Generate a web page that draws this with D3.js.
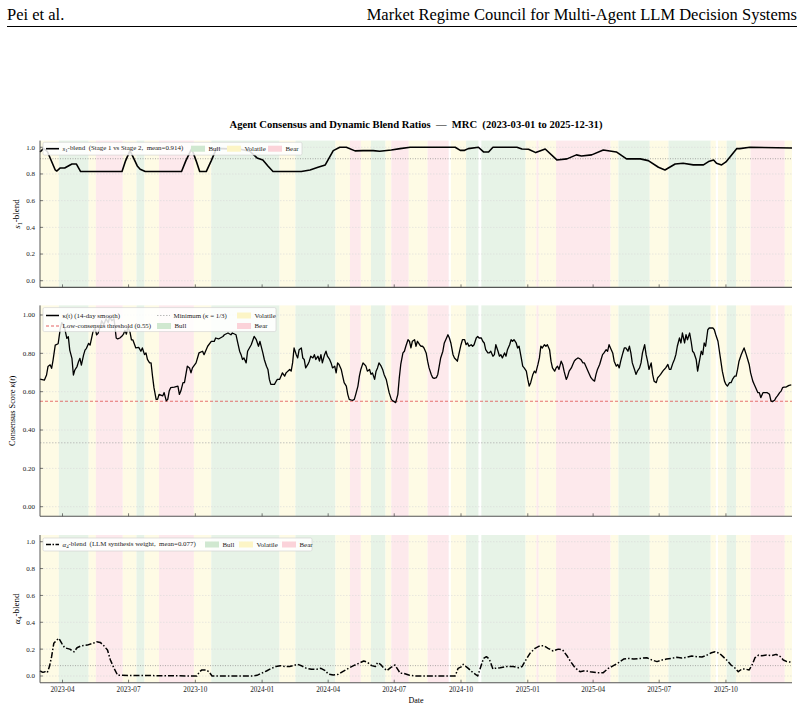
<!DOCTYPE html>
<html>
<head>
<meta charset="utf-8">
<script src="https://cdn.jsdelivr.net/npm/d3@7"></script>
<style>
  body { margin: 0; background: #fff; }
  text { font-family: "Liberation Serif", "Times New Roman", serif; }
</style>
</head>
<body>
<svg id="chart"></svg>
<script>
let width = 804;
let height = 710;

// market regimes (same shading in every panel)
let regimeStart = ["2023-03-01","2023-03-27","2023-05-07","2023-05-17","2023-06-23","2023-07-12","2023-07-23","2023-08-12","2023-09-29","2023-10-23","2024-01-25","2024-02-16","2024-04-11","2024-05-01","2024-05-16","2024-05-30","2024-06-19","2024-06-27","2024-07-21","2024-08-16","2024-09-17","2024-10-08","2024-10-29","2024-12-29","2025-01-13","2025-01-16","2025-02-09","2025-04-25","2025-05-06","2025-06-18","2025-07-14","2025-09-10","2025-09-20","2025-10-02","2025-10-15","2025-11-04","2025-12-21"];
let regimeEnd = ["2023-03-27","2023-05-07","2023-05-17","2023-06-23","2023-07-12","2023-07-23","2023-08-12","2023-09-29","2023-10-23","2024-01-25","2024-02-16","2024-04-11","2024-05-01","2024-05-16","2024-05-30","2024-06-19","2024-06-27","2024-07-21","2024-08-16","2024-09-14","2024-10-08","2024-10-25","2024-12-29","2025-01-13","2025-01-16","2025-02-09","2025-04-25","2025-05-06","2025-06-18","2025-07-14","2025-09-10","2025-09-17","2025-10-02","2025-10-15","2025-11-04","2025-12-21","2025-12-31"];
let regimeType = ["Volatile","Bull","Volatile","Bear","Volatile","Bull","Volatile","Bear","Volatile","Bull","Volatile","Bull","Volatile","Bear","Volatile","Bull","Volatile","Bear","Volatile","Bear","Volatile","Bull","Bull","Volatile","Bear","Volatile","Bear","Volatile","Bull","Volatile","Bull","Volatile","Volatile","Bull","Volatile","Bear","Volatile"];

// series: [days since 2023-03-01, value]
let s1Blend = [[0,.965],[5,.99],[10,.97],[21,.83],[23,.822],[28,.845],[34,.845],[44,.875],[50,.875],[56,.818],[113,.818],[118,.9],[124,.975],[128,.93],[134,.86],[138,.835],[145,.818],[195,.818],[201,.9],[209,.99],[215,.9],[220,.818],[229,.818],[236,.9],[243,.99],[251,.99],[276,.985],[289,.97],[293,.95],[299,.92],[307,.905],[314,.86],[321,.818],[360,.818],[372,.83],[383,.85],[393,.868],[404,.975],[413,1.0],[422,1.0],[434,.973],[445,.975],[459,.975],[468,.97],[484,.98],[496,.99],[510,1.0],[572,1.0],[579,.977],[585,.977],[590,.99],[604,1.0],[611,.965],[618,.965],[624,1.0],[657,1.0],[664,.987],[673,.985],[683,.96],[696,.987],[712,.905],[726,.913],[739,.943],[746,.935],[760,.943],[776,.98],[794,.965],[808,.913],[827,.913],[838,.9],[852,.85],[861,.83],[875,.875],[886,.88],[900,.868],[914,.868],[921,.893],[928,.905],[932,.88],[939,.868],[945,.89],[960,.99],[964,.99],[978,1.0],[1036,.995]];
let s1Mean = 0.914;

let kappa = [[0,.666],[6,.66],[9,.687],[11,.731],[14,.74],[16,.722],[18,.765],[21,.843],[25,.85],[28,.93],[30,.96],[32,.95],[34,.93],[37,.878],[39,.887],[41,.817],[44,.774],[46,.687],[48,.713],[51,.731],[53,.756],[55,.774],[57,.739],[60,.791],[62,.817],[64,.826],[67,.852],[69,.843],[71,.878],[73,.913],[76,.93],[78,.896],[80,.904],[83,.94],[85,.97],[88,.95],[91,.98],[94,.96],[96,.99],[99,.97],[102,.98],[105,.88],[107,.875],[110,.88],[113,.89],[115,.9],[117,.92],[119,.9],[121,.935],[124,.91],[126,.87],[128,.87],[132,.828],[136,.831],[139,.811],[141,.828],[144,.793],[146,.802],[148,.768],[151,.75],[153,.75],[155,.681],[157,.621],[160,.56],[162,.56],[164,.586],[169,.578],[171,.595],[174,.552],[176,.56],[178,.603],[180,.621],[185,.624],[190,.629],[192,.586],[194,.603],[197,.647],[199,.647],[203,.733],[206,.724],[208,.698],[210,.724],[215,.75],[219,.802],[224,.811],[226,.793],[231,.837],[236,.862],[240,.862],[242,.88],[246,.875],[252,.888],[254,.897],[259,.906],[263,.897],[265,.906],[270,.897],[272,.862],[275,.811],[277,.793],[279,.768],[281,.776],[284,.75],[286,.811],[291,.845],[295,.888],[298,.871],[301,.837],[303,.862],[307,.802],[309,.768],[312,.733],[314,.716],[316,.664],[318,.638],[323,.638],[325,.652],[327,.664],[330,.664],[332,.681],[334,.698],[337,.681],
[339,.698],[344,.716],[346,.707],[348,.75],[350,.828],[353,.793],[355,.776],[357,.819],[360,.828],[362,.776],[364,.768],[366,.724],[369,.742],[371,.759],[373,.785],[376,.776],[378,.793],[380,.768],[383,.785],[385,.759],[387,.793],[389,.75],[392,.793],[394,.811],[396,.785],[399,.768],[401,.75],[403,.724],[406,.733],[408,.698],[410,.75],[412,.742],[415,.716],[417,.681],[419,.647],[422,.629],[424,.586],[426,.56],[428,.557],[431,.555],[433,.56],[435,.586],[438,.629],[440,.681],[442,.716],[445,.75],[447,.742],[449,.733],[451,.707],[454,.716],[456,.69],[458,.698],[461,.664],[463,.707],[465,.724],[467,.75],[470,.733],[472,.716],[474,.69],[477,.664],[479,.629],[481,.595],[484,.56],[486,.552],[488,.548],[490,.543],[493,.586],[495,.673],[497,.742],[500,.802],[502,.811],[504,.837],[507,.871],[509,.863],[511,.828],[513,.863],[516,.871],[518,.837],[520,.863],[523,.845],[525,.837],[527,.837],[529,.828],[532,.802],[534,.759],[536,.724],[539,.69],[541,.673],[543,.669],[546,.673],[548,.69],[550,.733],[552,.776],[555,.811],[557,.854],[559,.871],[562,.897],[564,.88],[566,.854],[569,.793],[571,.776],[573,.768],[575,.759],[578,.811],[580,.845],[582,.871],[585,.871],[587,.845],[589,.854],[591,.837],[594,.845],[596,.837],[598,.845],[601,.88],[603,.888],[605,.88],[608,.88],[610,.863],[612,.854],[614,.819],[617,.802],[619,.802],[621,.811],[624,.785],[626,.793],[628,.845],[631,.811],[633,.785],[635,.793],[637,.776],[640,.802],[642,.785],[644,.819],[647,.845],[649,.871],[651,.863],[653,.871],[656,.854],[658,.828],[660,.837],[663,.776],[665,.733],[667,.724],[670,.707],[672,.664],[674,.629],[676,.647],[679,.69],[681,.707],[683,.698],
[686,.742],[688,.776],[690,.837],[692,.828],[695,.845],[697,.837],[699,.845],[702,.819],[704,.759],[706,.724],[709,.707],[711,.724],[713,.733],[715,.716],[718,.759],[720,.742],[722,.707],[725,.664],[727,.681],[729,.707],[732,.724],[734,.742],[736,.759],[738,.768],[741,.776],[743,.773],[745,.768],[748,.75],[750,.75],[752,.733],[755,.707],[757,.69],[759,.673],[761,.664],[764,.655],[766,.69],[768,.716],[771,.742],[773,.768],[775,.793],[777,.802],[780,.819],[782,.811],[784,.845],[787,.819],[789,.802],[791,.759],[794,.733],[796,.742],[798,.724],[800,.759],[803,.802],[805,.828],[807,.828],[810,.811],[812,.837],[814,.802],[816,.75],[819,.716],[821,.69],[823,.707],[826,.724],[828,.75],[830,.802],[833,.845],[835,.793],[837,.759],[839,.716],[842,.75],[844,.69],[846,.655],[849,.647],[851,.673],[853,.681],[855,.69],[858,.707],[860,.716],[862,.724],[865,.742],[867,.716],[869,.716],[872,.75],[874,.768],[876,.793],[878,.837],[881,.88],[883,.854],[885,.906],[888,.854],[890,.897],[892,.871],[895,.906],[897,.863],[899,.811],[901,.802],[904,.768],[906,.707],[908,.75],[911,.811],[913,.793],[915,.854],[917,.837],[920,.923],[922,.932],[924,.932],[927,.932],[929,.923],[931,.897],[934,.863],[936,.811],[938,.759],[940,.707],[943,.655],[945,.638],[947,.629],[950,.647],[952,.647],[954,.664],[957,.681],[959,.681],[961,.716],[963,.759],[966,.793],[968,.811],[970,.828],[973,.793],[975,.768],[977,.742],[979,.698],[982,.655],[984,.638],[986,.621],[989,.595],[991,.595],[993,.569],[996,.595],[998,.595],[1000,.595],[1002,.595],[1005,.586],[1007,.552],[1009,.548],[1012,.555],[1014,.569],[1016,.578],[1019,.595],[1021,.603],[1023,.621],[1025,.624],[1028,.624],[1030,.629],[1032,.633],[1035,.635]];
let kappaThreshold = 0.55;
let kappaMinimum = 1/3;

let a4Blend = [[0,.037],[4,.027],[7,.032],[10,.025],[13,.07],[16,.144],[19,.243],[23,.268],[26,.28],[30,.243],[34,.21],[41,.2],[47,.18],[51,.21],[57,.225],[65,.23],[73,.243],[78,.255],[83,.25],[88,.225],[93,.193],[97,.119],[102,.057],[107,.005],[216,0],[220,.032],[223,.045],[229,.045],[233,.03],[237,0],[294,0],[299,.005],[305,.02],[312,.037],[319,.057],[325,.07],[331,.077],[338,.07],[344,.07],[349,.077],[355,.087],[361,.074],[367,.057],[374,.05],[381,.05],[387,.057],[393,.04],[397,.015],[404,.007],[411,.012],[417,.032],[425,.057],[432,.077],[439,.094],[446,.112],[451,.102],[457,.077],[462,.07],[465,.1],[469,.087],[473,.062],[478,.04],[483,.062],[489,.082],[494,.04],[496,.02],[501,.02],[508,.007],[517,0],[572,0],[576,.057],[581,.07],[583,.087],[587,.07],[590,.057],[595,.032],[598,.02],[603,0],[605,.032],[608,.082],[611,.131],[615,.144],[618,.131],[620,.112],[624,.052],[627,.057],[634,.062],[643,.07],[652,.07],[659,.062],[664,.07],[668,.107],[675,.169],[682,.206],[689,.226],[694,.226],[700,.206],[707,.186],[714,.2],[720,.194],[726,.151],[731,.107],[737,.062],[744,.032],[751,.04],[758,.032],[767,.025],[776,.025],[783,.057],[790,.077],[797,.099],[804,.126],[811,.131],[818,.126],[827,.131],[836,.136],[843,.119],[850,.107],[857,.119],[863,.126],[870,.131],[877,.139],[884,.134],[891,.139],[898,.149],[905,.144],[912,.141],[919,.156],[925,.173],[930,.181],[936,.169],[941,.144],[946,.119],[952,.082],[958,.057],[962,.032],[967,.052],[971,.052],[977,.045],[981,.082],[985,.136],[990,.156],[994,.151],[1001,.156],[1008,.151],[1014,.161],[1020,.144],[1024,.119],[1029,.107],[1036,.102]];
let a4Mean = 0.077;

let xTickLabels = ["2023-04","2023-07","2023-10","2024-01","2024-04","2024-07","2024-10","2025-01","2025-04","2025-07","2025-10"];
let yTicks = [0, 0.2, 0.4, 0.6, 0.8, 1.0];

let bandFill = {Bull: "#e7f3e7", Volatile: "#fefbe5", Bear: "#fde9ec"};
let patchFill = {Bull: "#d0e8d0", Volatile: "#fcf5c6", Bear: "#fbd3d9"};

let t0 = Date.UTC(2023, 2, 1);
let dayToDate = d => new Date(t0 + d * 864e5);
let parse = d3.utcParse("%Y-%m-%d");
let parseMonth = d3.utcParse("%Y-%m");

let svg = d3.select('#chart')
  .attr('width', width)
  .attr('height', height);

let xax = d3.scaleUtc()
  .domain([parse("2023-03-01"), parse("2025-12-31")])
  .range([40, 792]);

// page header
svg.append('text').attr('x', 7).attr('y', 20).attr('font-size', 16.5)
  .style('font-family', '"Liberation Serif", serif').text('Pei et al.');
svg.append('text').attr('x', 797).attr('y', 20).attr('font-size', 16.5).attr('text-anchor', 'end')
  .text('Market Regime Council for Multi-Agent LLM Decision Systems');
svg.append('line').attr('x1', 7).attr('x2', 797).attr('y1', 26.5).attr('y2', 26.5)
  .attr('stroke', '#000').attr('stroke-width', 1);

svg.append('text')
  .attr('x', 416).attr('y', 128)
  .attr('text-anchor', 'middle')
  .attr('font-size', 10.6).attr('font-weight', 'bold')
  .attr('xml:space', 'preserve')
  .text('Agent Consensus and Dynamic Blend Ratios  \u2014  MRC  (2023-03-01 to 2025-12-31)');

let regimes = regimeStart.map((s, i) => ({start: parse(s), end: parse(regimeEnd[i]), type: regimeType[i]}));

function drawPanel(cfg) {
  let g = svg.append('g');
  let yax = d3.scaleLinear().domain([-0.05, 1.05]).range([cfg.bottom, cfg.top]);

  g.selectAll('rect.band')
    .data(regimes)
    .join('rect')
      .attr('class', 'band')
      .attr('x', d => xax(d.start))
      .attr('width', d => xax(d.end) - xax(d.start))
      .attr('y', cfg.top)
      .attr('height', cfg.bottom - cfg.top)
      .attr('fill', d => bandFill[d.type]);

  g.selectAll('line.grid')
    .data(yTicks)
    .join('line')
      .attr('class', 'grid')
      .attr('x1', 40).attr('x2', 792)
      .attr('y1', d => yax(d)).attr('y2', d => yax(d))
      .attr('stroke', '#d8d8d8').attr('stroke-width', 0.6)
      .attr('stroke-dasharray', '1.5,1.5');

  cfg.refs.forEach(r => {
    g.append('line')
      .attr('x1', 40).attr('x2', 792)
      .attr('y1', yax(r.value)).attr('y2', yax(r.value))
      .attr('stroke', r.color).attr('stroke-width', r.width)
      .attr('stroke-dasharray', r.dash);
  });

  let line = d3.line()
    .x(d => xax(dayToDate(d[0])))
    .y(d => yax(d[1]));
  g.append('path')
    .attr('d', line(cfg.data))
    .attr('fill', 'none')
    .attr('stroke', '#000')
    .attr('stroke-width', cfg.lineWidth)
    .attr('stroke-linejoin', 'round')
    .attr('stroke-dasharray', cfg.dash || null);

  // spines
  g.append('line').attr('x1', 40).attr('x2', 40).attr('y1', cfg.top).attr('y2', cfg.bottom)
    .attr('stroke', '#444').attr('stroke-width', 0.9);
  g.append('line').attr('x1', 40).attr('x2', 792).attr('y1', cfg.bottom).attr('y2', cfg.bottom)
    .attr('stroke', '#555').attr('stroke-width', 1.1);

  // y ticks (inward)
  g.selectAll('line.ytick')
    .data(yTicks)
    .join('line')
      .attr('class', 'ytick')
      .attr('x1', 40).attr('x2', 43)
      .attr('y1', d => yax(d)).attr('y2', d => yax(d))
      .attr('stroke', '#444').attr('stroke-width', 0.7);
  g.selectAll('text.ylab')
    .data(yTicks)
    .join('text')
      .attr('class', 'ylab')
      .attr('x', 35).attr('y', d => yax(d) + 2.4)
      .attr('text-anchor', 'end')
      .attr('font-size', 7).attr('fill', '#222')
      .text(d => d3.format(cfg.fmt)(d));

  // x ticks (inward)
  let xt = xTickLabels.map(parseMonth);
  g.selectAll('line.xtick')
    .data(xt)
    .join('line')
      .attr('class', 'xtick')
      .attr('x1', d => xax(d)).attr('x2', d => xax(d))
      .attr('y1', cfg.bottom).attr('y2', cfg.bottom - 3)
      .attr('stroke', '#444').attr('stroke-width', 0.7);
  if (cfg.xLabels) {
    g.selectAll('text.xlab')
      .data(xt)
      .join('text')
        .attr('class', 'xlab')
        .attr('x', d => xax(d)).attr('y', cfg.bottom + 9.5)
        .attr('text-anchor', 'middle')
        .attr('font-size', 7.2).attr('fill', '#222')
        .text(d => d3.utcFormat("%Y-%m")(d));
    g.append('text')
      .attr('x', 416).attr('y', cfg.bottom + 20)
      .attr('text-anchor', 'middle')
      .attr('font-size', 8)
      .text('Date');
  }

  // y label
  let yl = g.append('text')
    .attr('transform', `translate(${cfg.ylabX},${(cfg.top + cfg.bottom) / 2}) rotate(-90)`)
    .attr('text-anchor', 'middle')
    .attr('font-size', cfg.ylabSize);
  cfg.ylabel(yl);

  // legend
  let lg = g.append('g');
  lg.append('rect')
    .attr('x', cfg.legend.x).attr('y', cfg.legend.y)
    .attr('width', cfg.legend.w).attr('height', cfg.legend.h)
    .attr('rx', 1.5)
    .attr('fill', '#fff').attr('fill-opacity', 0.85)
    .attr('stroke', '#cfcfcf').attr('stroke-width', 0.6);
  cfg.legend.items.forEach(it => {
    if (it.kind === 'line') {
      lg.append('line')
        .attr('x1', it.x).attr('x2', it.x + 13)
        .attr('y1', it.y).attr('y2', it.y)
        .attr('stroke', it.color).attr('stroke-width', it.width)
        .attr('stroke-dasharray', it.dash || null);
    } else {
      lg.append('rect')
        .attr('x', it.x).attr('y', it.y - 3)
        .attr('width', 14).attr('height', 6)
        .attr('fill', patchFill[it.type]);
    }
    let t = lg.append('text')
      .attr('x', it.x + (it.kind === 'line' ? 16.5 : 17.5))
      .attr('y', it.y + 2.3)
      .attr('font-size', 6.9)
      .attr('fill', '#222')
      .attr('xml:space', 'preserve');
    if (it.label) it.label(t); else t.text(it.type);
  });
}

function sub(t, main, s, rest) {
  t.append('tspan').attr('font-style', 'italic').text(main);
  t.append('tspan').attr('font-size', '70%').attr('dy', '0.25em').text(s);
  t.append('tspan').attr('dy', '-0.25em').text(rest);
}

drawPanel({
  top: 140.6, bottom: 287.4, fmt: '.1f',
  data: s1Blend, lineWidth: 1.6,
  refs: [{value: s1Mean, color: '#888', width: 0.7, dash: '1,1.5'}],
  ylabX: 20, ylabSize: 9,
  ylabel: t => sub(t, 's', '1', '-blend'),
  legend: {x: 43, y: 142.3, w: 259, h: 12.8, items: [
    {kind: 'line', x: 46, y: 148.7, color: '#000', width: 1.6,
     label: t => sub(t, 's', '1', '-blend  (Stage 1 vs Stage 2,  mean=0.914)')},
    {kind: 'patch', x: 191, y: 148.7, type: 'Bull'},
    {kind: 'patch', x: 227, y: 148.7, type: 'Volatile'},
    {kind: 'patch', x: 268, y: 148.7, type: 'Bear'}
  ]}
});

drawPanel({
  top: 305.4, bottom: 516.3, fmt: '.2f',
  data: kappa, lineWidth: 1.3,
  refs: [
    {value: kappaMinimum, color: '#aaa', width: 0.7, dash: '1.5,1.5'},
    {value: kappaThreshold, color: '#e05050', width: 0.8, dash: '3,2'}
  ],
  ylabX: 15, ylabSize: 8.3,
  ylabel: t => {
    t.append('tspan').text('Consensus Score ');
    t.append('tspan').attr('font-style', 'italic').text('\u03ba');
    t.append('tspan').text('(');
    t.append('tspan').attr('font-style', 'italic').text('t');
    t.append('tspan').text(')');
  },
  legend: {x: 43, y: 307.6, w: 233, h: 24, items: [
    {kind: 'line', x: 46, y: 315.5, color: '#000', width: 1.5,
     label: t => t.text('\u03ba(t) (14-day smooth)')},
    {kind: 'line', x: 46, y: 326, color: '#e05050', width: 0.9, dash: '3,2',
     label: t => t.text('Low-consensus threshold (0.55)')},
    {kind: 'line', x: 157, y: 315.5, color: '#aaa', width: 0.8, dash: '1.5,1.5',
     label: t => {
       t.append('tspan').text('Minimum (');
       t.append('tspan').attr('font-style', 'italic').text('\u03ba');
       t.append('tspan').text(' = 1/3)');
     }},
    {kind: 'patch', x: 157, y: 326, type: 'Bull'},
    {kind: 'patch', x: 237, y: 315.5, type: 'Volatile'},
    {kind: 'patch', x: 237, y: 326, type: 'Bear'}
  ]}
});

drawPanel({
  top: 535, bottom: 682.7, fmt: '.1f',
  data: a4Blend, lineWidth: 1.5, dash: '6,2,1.5,2',
  refs: [{value: a4Mean, color: '#888', width: 0.7, dash: '1,1.5'}],
  ylabX: 20, ylabSize: 9, xLabels: true,
  ylabel: t => sub(t, '\u03b1', '4', '-blend'),
  legend: {x: 43, y: 538, w: 269, h: 13, items: [
    {kind: 'line', x: 46, y: 544.5, color: '#000', width: 1.5, dash: '5,1.5,1.5,1.5',
     label: t => sub(t, '\u03b1', '4', '-blend  (LLM synthesis weight,  mean=0.077)')},
    {kind: 'patch', x: 205, y: 544.5, type: 'Bull'},
    {kind: 'patch', x: 239, y: 544.5, type: 'Volatile'},
    {kind: 'patch', x: 282, y: 544.5, type: 'Bear'}
  ]}
});
</script>
</body>
</html>
